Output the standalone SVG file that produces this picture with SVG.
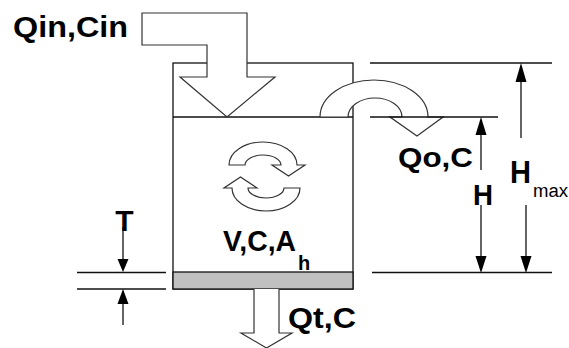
<svg xmlns="http://www.w3.org/2000/svg" width="569" height="348" viewBox="0 0 569 348">
<defs>
<style>
.ln{stroke:#111;stroke-width:1.3;fill:none}
.sh{stroke:#333;stroke-width:1.2;fill:#fff;stroke-linejoin:miter}
.ah{fill:#000;stroke:none}
.lb{font-family:"Liberation Sans",Arial,sans-serif;font-weight:bold;fill:#000}
.sm{font-family:"Liberation Sans",Arial,sans-serif;fill:#000}
</style>
</defs>
<rect width="569" height="348" fill="#fff"/>
<g id="tank">
<rect x="173" y="63" width="180" height="226" class="ln"/>
<rect x="173" y="272" width="180" height="17" fill="#c0c0c0" stroke="#111" stroke-width="1.3"/>
<line x1="173" y1="117" x2="353" y2="117" class="ln"/>
</g>
<g id="inlet">
<path d="M142,13 L247,13 L247,77 L275,77 L227,117 L180,77 L207,77 L207,45 L142,45 Z" class="sh"/>
</g>
<g id="overflow">
<path d="M320,117 A54,37 0 0 1 428,117 L443,117 L417,136 L390,117 L402,117 A27,19 0 0 0 348,117 Z" class="sh"/>
</g>
<g id="mixing">
<path id="mixarrow" d="M229,165 A34,23 0 0 1 297,165 L305,165 L288.5,176 L272,165 L281,165 A18,10 0 0 0 245,165 Z" class="sh"/>
<path d="M229,165 A34,23 0 0 1 297,165 L305,165 L288.5,176 L272,165 L281,165 A18,10 0 0 0 245,165 Z" class="sh" transform="rotate(180 264.5 176.5)"/>
</g>
<g id="outlet">
<path d="M254,289 L254,333 L241,333 L266.5,348 L292,333 L279,333 L279,289" class="sh"/>
</g>
<g id="connectors">
<line x1="370" y1="63" x2="552" y2="63" class="ln"/>
<line x1="370" y1="117" x2="498" y2="117" class="ln"/>
<line x1="372" y1="272.5" x2="552" y2="272.5" class="ln"/>
<line x1="77" y1="272.5" x2="166" y2="272.5" class="ln"/>
<line x1="77" y1="289" x2="166" y2="289" class="ln"/>
<line x1="481" y1="133" x2="481" y2="170" class="ln"/>
<path d="M481,117 L486.5,135 L475.5,135 Z" class="ah"/>
<line x1="481" y1="205" x2="481" y2="258" class="ln"/>
<path d="M481,273 L486.5,256 L475.5,256 Z" class="ah"/>
<line x1="521" y1="80" x2="521" y2="138" class="ln"/>
<path d="M521,63 L526.5,82 L515.5,82 Z" class="ah"/>
<line x1="526" y1="205" x2="526" y2="258" class="ln"/>
<path d="M526,273 L531.5,256 L520.5,256 Z" class="ah"/>
<line x1="123" y1="227" x2="123" y2="261" class="ln"/>
<path d="M123,272 L128.5,259 L117.5,259 Z" class="ah"/>
<line x1="123" y1="302" x2="123" y2="325" class="ln"/>
<path d="M123,289 L128.5,304 L117.5,304 Z" class="ah"/>
</g>
<g id="labels">
<text x="13" y="37" class="lb" font-size="29" textLength="115" lengthAdjust="spacingAndGlyphs">Qin,Cin</text>
<text x="398" y="167" class="lb" font-size="28" textLength="75" lengthAdjust="spacingAndGlyphs">Qo,C</text>
<text x="288" y="328" class="lb" font-size="29" textLength="68" lengthAdjust="spacingAndGlyphs">Qt,C</text>
<text x="223" y="251" class="lb" font-size="29" textLength="73" lengthAdjust="spacingAndGlyphs">V,C,A</text>
<text x="298" y="270" class="lb" font-size="20">h</text>
<text x="124.5" y="231" class="lb" font-size="30" text-anchor="middle">T</text>
<text x="473" y="205" class="lb" font-size="30" textLength="20" lengthAdjust="spacingAndGlyphs">H</text>
<text x="510" y="183" class="lb" font-size="31" textLength="21" lengthAdjust="spacingAndGlyphs">H</text>
<text x="533" y="197" class="sm" font-size="18" textLength="35" lengthAdjust="spacingAndGlyphs">max</text>
</g>
</svg>
